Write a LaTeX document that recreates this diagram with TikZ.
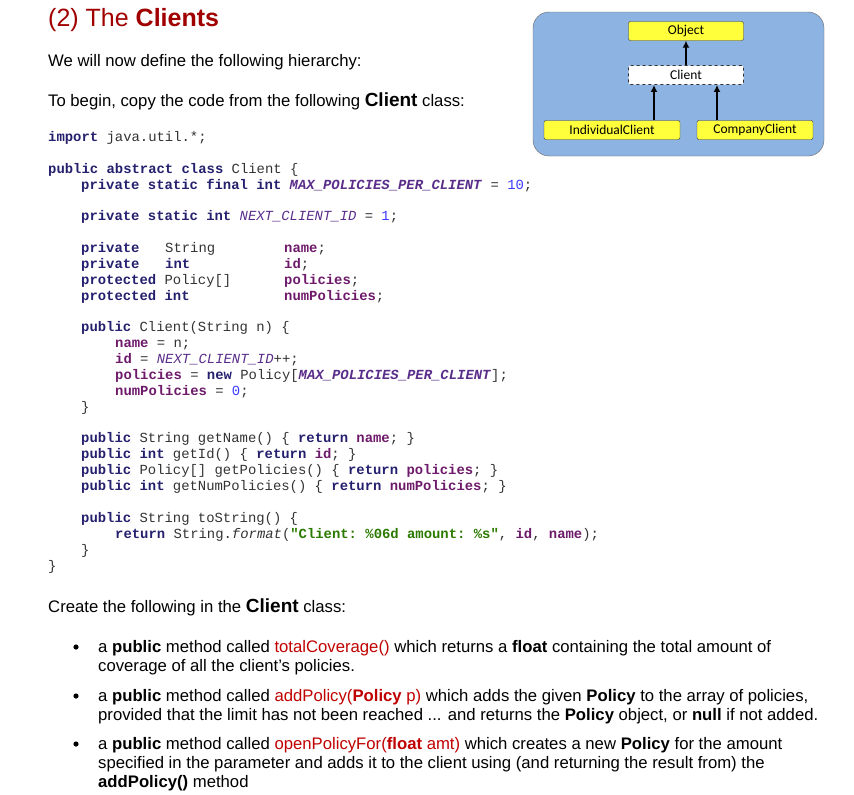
\documentclass[tikz,border=0pt]{standalone}
\usepackage{fontspec}
\setmainfont{Liberation Sans}
\setmonofont{Liberation Mono}
\newfontfamily\calib{Carlito}
\usetikzlibrary{arrows.meta}
\definecolor{kwc}{HTML}{24206E}
\definecolor{fld}{HTML}{6E1A6A}
\definecolor{cst}{HTML}{5A2D8A}
\definecolor{numc}{HTML}{3A3AFF}
\definecolor{strc}{HTML}{2A7A00}
\definecolor{plain}{HTML}{333333}
\definecolor{redt}{HTML}{A00000}
\definecolor{meth}{HTML}{C00000}
\definecolor{bgblue}{HTML}{8DB3E2}
\definecolor{yel}{HTML}{FFFF3C}
\newcommand\kw[1]{\textcolor{kwc}{\textbf{#1}}}
\newcommand\fd[1]{\textcolor{fld}{\textbf{#1}}}
\newcommand\cs[1]{\textcolor{cst}{\textbf{\textit{#1}}}}
\newcommand\ci[1]{\textcolor{cst}{\textit{#1}}}
\newcommand\nm[1]{\textcolor{numc}{#1}}
\newcommand\st[1]{\textcolor{strc}{\textbf{#1}}}
\newcommand\mth[1]{\textcolor{meth}{#1}}
\tikzset{
 txt/.style={anchor=base west,inner sep=0pt,font=\fontsize{16.7}{19}\selectfont},
 code/.style={anchor=base west,inner sep=0pt,text=plain,font=\ttfamily\fontsize{13.9}{15}\selectfont},
 cls/.style={draw=black!80,fill=yel,rounded corners=2pt,minimum height=19pt,inner sep=0pt,font=\calib\fontsize{13.5}{15}\selectfont},
 arr/.style={-{Latex[length=7pt,width=7pt]},line width=2.6pt}
}
\begin{document}
\begin{tikzpicture}[x=1pt,y=-1pt]
\useasboundingbox (0,0) rectangle (854,795);
\node[txt,font=\fontsize{25}{28}\selectfont,text=redt] (title) at (48,27) {(2) The \textbf{Clients}};
\node[txt] (t1) at (48,66) {We will now define the following hierarchy:};
\node[txt] (t2) at (48,106) {To begin, copy the code from the following \textbf{\fontsize{19}{21}\selectfont Client} class:};
% diagram
\draw[draw=black!60,fill=bgblue,rounded corners=16pt] (533,12) rectangle (824,156);
\node[cls,minimum width=115pt] (obj) at (686,31) {Object};
\node[cls,fill=white,dashed,line width=0.9pt,minimum width=115pt] (cl) at (686,75) {Client};
\node[cls,minimum width=136pt] (ind) at (612,130) {IndividualClient};
\node[cls,minimum width=116pt] (com) at (755,130) {CompanyClient};
\draw[arr] (cl.north) -- (obj.south);
\draw[arr] (ind.north -| 654,0) -- (cl.south -| 654,0);
\draw[arr] (com.north -| 717,0) -- (cl.south -| 717,0);
% code
\node[code] (c0) at (48,141) {\kw{import} java.util.*;};
\node[code] (c1) at (48,173) {\kw{public abstract class} Client \{};
\node[code] (c2) at (81,189) {\kw{private static final int} \cs{MAX\_POLICIES\_PER\_CLIENT} = \nm{10};};
\node[code] (c3) at (81,220) {\kw{private static int} \ci{NEXT\_CLIENT\_ID} = \nm{1};};
\node[code] (c4) at (81,252) {\kw{private}};
\node[code] (c4b) at (165,252) {String};
\node[code] (c4c) at (284,252) {\fd{name};};
\node[code] (c5) at (81,268) {\kw{private}};
\node[code] (c5b) at (165,268) {\kw{int}};
\node[code] (c5c) at (284,268) {\fd{id};};
\node[code] (c6) at (81,284) {\kw{protected} Policy[]};
\node[code] (c6c) at (284,284) {\fd{policies};};
\node[code] (c7) at (81,300) {\kw{protected int}};
\node[code] (c7c) at (284,300) {\fd{numPolicies};};
\node[code] (c8) at (81,331) {\kw{public} Client(String n) \{};
\node[code] (c9) at (115,347) {\fd{name} = n;};
\node[code] (c10) at (115,363) {\fd{id} = \ci{NEXT\_CLIENT\_ID}++;};
\node[code] (c11) at (115,379) {\fd{policies} = \kw{new} Policy[\cs{MAX\_POLICIES\_PER\_CLIENT}];};
\node[code] (c12) at (115,395) {\fd{numPolicies} = \nm{0};};
\node[code] (c13) at (81,411) {\}};
\node[code] (c14) at (81,442) {\kw{public} String getName() \{ \kw{return} \fd{name}; \}};
\node[code] (c15) at (81,458) {\kw{public int} getId() \{ \kw{return} \fd{id}; \}};
\node[code] (c16) at (81,474) {\kw{public} Policy[] getPolicies() \{ \kw{return} \fd{policies}; \}};
\node[code] (c17) at (81,490) {\kw{public int} getNumPolicies() \{ \kw{return} \fd{numPolicies}; \}};
\node[code] (c18) at (81,522) {\kw{public} String toString() \{};
\node[code] (c19) at (115,538) {\kw{return} String.\textit{format}(\st{"Client: \%06d amount: \%s"}, \fd{id}, \fd{name});};
\node[code] (c20) at (81,554) {\}};
\node[code] (c21) at (48,570) {\}};
% bottom text
\node[txt] (t3) at (48,612) {Create the following in the \textbf{\fontsize{19}{21}\selectfont Client} class:};
\foreach \y in {652,701,749} \fill (76,\y-5) circle (2.6pt);
\node[txt] (b1) at (98,652) {a \textbf{public} method called \mth{totalCoverage()} which returns a \textbf{float} containing the total amount of};
\node[txt] (b1b) at (98,671) {coverage of all the client's policies.};
\node[txt] (b2) at (98,701) {a \textbf{public} method called \mth{addPolicy(\textbf{Policy} p)} which adds the given \textbf{Policy} to the array of policies,};
\node[txt] (b2b) at (98,720) {provided that the limit has not been reached ... and returns the \textbf{Policy} object, or \textbf{null} if not added.};
\node[txt] (b3) at (98,749) {a \textbf{public} method called \mth{openPolicyFor(\textbf{float} amt)} which creates a new \textbf{Policy} for the amount};
\node[txt] (b3b) at (98,768) {specified in the parameter and adds it to the client using (and returning the result from) the};
\node[txt] (b3c) at (98,787) {\textbf{addPolicy()} method};
\end{tikzpicture}
\end{document}
